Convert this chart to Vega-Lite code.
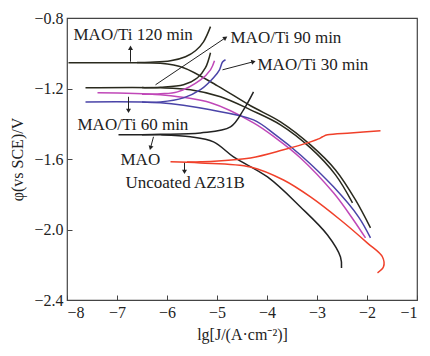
{
  "$schema": "https://vega.github.io/schema/vega-lite/v6.json",
  "width": 350,
  "height": 282,
  "autosize": "none",
  "padding": {"left": 67, "top": 18, "right": 13, "bottom": 56},
  "background": "white",
  "config": {
    "view": {"stroke": "#444", "strokeWidth": 1.2},
    "font": "Liberation Serif",
    "axis": {"grid": false, "domain": false, "titleFontWeight": "normal"}
  },
  "datasets": {
    "curves": [
      {"curve": "120", "branch": "c", "i": 0, "x": -1.93, "y": -1.991},
      {"curve": "120", "branch": "c", "i": 1, "x": -2.23, "y": -1.832},
      {"curve": "120", "branch": "c", "i": 2, "x": -2.63, "y": -1.662},
      {"curve": "120", "branch": "c", "i": 3, "x": -3.13, "y": -1.52},
      {"curve": "120", "branch": "c", "i": 4, "x": -3.73, "y": -1.389},
      {"curve": "120", "branch": "c", "i": 5, "x": -4.33, "y": -1.298},
      {"curve": "120", "branch": "c", "i": 6, "x": -4.99, "y": -1.185},
      {"curve": "120", "branch": "c", "i": 7, "x": -5.67, "y": -1.082},
      {"curve": "120", "branch": "c", "i": 8, "x": -6.13, "y": -1.057},
      {"curve": "120", "branch": "c", "i": 9, "x": -6.93, "y": -1.054},
      {"curve": "120", "branch": "c", "i": 10, "x": -7.97, "y": -1.054},
      {"curve": "120", "branch": "a", "i": 0, "x": -6.6, "y": -1.053},
      {"curve": "120", "branch": "a", "i": 1, "x": -6.33, "y": -1.051},
      {"curve": "120", "branch": "a", "i": 2, "x": -5.93, "y": -1.043},
      {"curve": "120", "branch": "a", "i": 3, "x": -5.63, "y": -1.02},
      {"curve": "120", "branch": "a", "i": 4, "x": -5.43, "y": -0.986},
      {"curve": "120", "branch": "a", "i": 5, "x": -5.27, "y": -0.935},
      {"curve": "120", "branch": "a", "i": 6, "x": -5.13, "y": -0.849},

      {"curve": "90", "branch": "c", "i": 0, "x": -2.29, "y": -1.849},
      {"curve": "90", "branch": "c", "i": 1, "x": -2.63, "y": -1.69},
      {"curve": "90", "branch": "c", "i": 2, "x": -3.13, "y": -1.537},
      {"curve": "90", "branch": "c", "i": 3, "x": -3.73, "y": -1.406},
      {"curve": "90", "branch": "c", "i": 4, "x": -4.33, "y": -1.321},
      {"curve": "90", "branch": "c", "i": 5, "x": -4.93, "y": -1.247},
      {"curve": "90", "branch": "c", "i": 6, "x": -5.53, "y": -1.207},
      {"curve": "90", "branch": "c", "i": 7, "x": -6.13, "y": -1.196},
      {"curve": "90", "branch": "c", "i": 8, "x": -7.63, "y": -1.196},
      {"curve": "90", "branch": "a", "i": 0, "x": -6.5, "y": -1.195},
      {"curve": "90", "branch": "a", "i": 1, "x": -6.13, "y": -1.193},
      {"curve": "90", "branch": "a", "i": 2, "x": -5.67, "y": -1.179},
      {"curve": "90", "branch": "a", "i": 3, "x": -5.39, "y": -1.139},
      {"curve": "90", "branch": "a", "i": 4, "x": -5.23, "y": -1.082},
      {"curve": "90", "branch": "a", "i": 5, "x": -5.13, "y": -0.997},

      {"curve": "60", "branch": "c", "i": 0, "x": -2.03, "y": -2.048},
      {"curve": "60", "branch": "c", "i": 1, "x": -2.27, "y": -1.946},
      {"curve": "60", "branch": "c", "i": 2, "x": -2.67, "y": -1.792},
      {"curve": "60", "branch": "c", "i": 3, "x": -3.33, "y": -1.594},
      {"curve": "60", "branch": "c", "i": 4, "x": -3.83, "y": -1.48},
      {"curve": "60", "branch": "c", "i": 5, "x": -4.27, "y": -1.395},
      {"curve": "60", "branch": "c", "i": 6, "x": -5.13, "y": -1.281},
      {"curve": "60", "branch": "c", "i": 7, "x": -6.13, "y": -1.236},
      {"curve": "60", "branch": "c", "i": 8, "x": -7.39, "y": -1.224},
      {"curve": "60", "branch": "a", "i": 0, "x": -6.5, "y": -1.232},
      {"curve": "60", "branch": "a", "i": 1, "x": -6.13, "y": -1.23},
      {"curve": "60", "branch": "a", "i": 2, "x": -5.79, "y": -1.219},
      {"curve": "60", "branch": "a", "i": 3, "x": -5.33, "y": -1.151},
      {"curve": "60", "branch": "a", "i": 4, "x": -5.13, "y": -1.094},
      {"curve": "60", "branch": "a", "i": 5, "x": -5.05, "y": -1.043},

      {"curve": "30", "branch": "c", "i": 0, "x": -1.93, "y": -2.048},
      {"curve": "30", "branch": "c", "i": 1, "x": -2.17, "y": -1.928},
      {"curve": "30", "branch": "c", "i": 2, "x": -2.67, "y": -1.758},
      {"curve": "30", "branch": "c", "i": 3, "x": -3.33, "y": -1.577},
      {"curve": "30", "branch": "c", "i": 4, "x": -3.83, "y": -1.463},
      {"curve": "30", "branch": "c", "i": 5, "x": -4.27, "y": -1.378},
      {"curve": "30", "branch": "c", "i": 6, "x": -5.13, "y": -1.321},
      {"curve": "30", "branch": "c", "i": 7, "x": -6.13, "y": -1.281},
      {"curve": "30", "branch": "c", "i": 8, "x": -7.63, "y": -1.276},
      {"curve": "30", "branch": "a", "i": 0, "x": -6.5, "y": -1.277},
      {"curve": "30", "branch": "a", "i": 1, "x": -6.13, "y": -1.276},
      {"curve": "30", "branch": "a", "i": 2, "x": -5.67, "y": -1.253},
      {"curve": "30", "branch": "a", "i": 3, "x": -5.33, "y": -1.207},
      {"curve": "30", "branch": "a", "i": 4, "x": -5.07, "y": -1.139},
      {"curve": "30", "branch": "a", "i": 5, "x": -4.95, "y": -1.094},
      {"curve": "30", "branch": "a", "i": 6, "x": -4.89, "y": -1.05},
      {"curve": "30", "branch": "a", "i": 7, "x": -4.83, "y": -1.037},

      {"curve": "MAO", "branch": "c", "i": 0, "x": -2.51, "y": -2.218},
      {"curve": "MAO", "branch": "c", "i": 1, "x": -2.53, "y": -2.156},
      {"curve": "MAO", "branch": "c", "i": 2, "x": -2.79, "y": -2.031},
      {"curve": "MAO", "branch": "c", "i": 3, "x": -3.33, "y": -1.872},
      {"curve": "MAO", "branch": "c", "i": 4, "x": -3.99, "y": -1.702},
      {"curve": "MAO", "branch": "c", "i": 5, "x": -4.67, "y": -1.588},
      {"curve": "MAO", "branch": "c", "i": 6, "x": -5.07, "y": -1.503},
      {"curve": "MAO", "branch": "c", "i": 7, "x": -5.53, "y": -1.474},
      {"curve": "MAO", "branch": "c", "i": 8, "x": -6.13, "y": -1.463},
      {"curve": "MAO", "branch": "c", "i": 9, "x": -6.97, "y": -1.463},
      {"curve": "MAO", "branch": "a", "i": 0, "x": -6.5, "y": -1.462},
      {"curve": "MAO", "branch": "a", "i": 1, "x": -6.13, "y": -1.46},
      {"curve": "MAO", "branch": "a", "i": 2, "x": -5.33, "y": -1.452},
      {"curve": "MAO", "branch": "a", "i": 3, "x": -4.73, "y": -1.418},
      {"curve": "MAO", "branch": "a", "i": 4, "x": -4.47, "y": -1.321},
      {"curve": "MAO", "branch": "a", "i": 5, "x": -4.27, "y": -1.219},

      {"curve": "AZ31B", "branch": "c", "i": 0, "x": -1.79, "y": -2.246},
      {"curve": "AZ31B", "branch": "c", "i": 1, "x": -1.67, "y": -2.212},
      {"curve": "AZ31B", "branch": "c", "i": 2, "x": -1.69, "y": -2.156},
      {"curve": "AZ31B", "branch": "c", "i": 3, "x": -1.99, "y": -2.077},
      {"curve": "AZ31B", "branch": "c", "i": 4, "x": -2.53, "y": -1.946},
      {"curve": "AZ31B", "branch": "c", "i": 5, "x": -3.13, "y": -1.815},
      {"curve": "AZ31B", "branch": "c", "i": 6, "x": -3.67, "y": -1.719},
      {"curve": "AZ31B", "branch": "c", "i": 7, "x": -4.33, "y": -1.645},
      {"curve": "AZ31B", "branch": "c", "i": 8, "x": -5.33, "y": -1.622},
      {"curve": "AZ31B", "branch": "c", "i": 9, "x": -5.93, "y": -1.616},
      {"curve": "AZ31B", "branch": "a", "i": 0, "x": -5.6, "y": -1.617},
      {"curve": "AZ31B", "branch": "a", "i": 1, "x": -5.33, "y": -1.616},
      {"curve": "AZ31B", "branch": "a", "i": 2, "x": -4.33, "y": -1.594},
      {"curve": "AZ31B", "branch": "a", "i": 3, "x": -3.67, "y": -1.548},
      {"curve": "AZ31B", "branch": "a", "i": 4, "x": -3.13, "y": -1.503},
      {"curve": "AZ31B", "branch": "a", "i": 5, "x": -2.97, "y": -1.486},
      {"curve": "AZ31B", "branch": "a", "i": 6, "x": -2.89, "y": -1.474},
      {"curve": "AZ31B", "branch": "a", "i": 7, "x": -2.79, "y": -1.463},
      {"curve": "AZ31B", "branch": "a", "i": 8, "x": -2.33, "y": -1.452},
      {"curve": "AZ31B", "branch": "a", "i": 9, "x": -1.73, "y": -1.44}
    ],
    "labels": [
      {"label": "MAO/Ti 120 min", "x": -7.87, "y": -0.923},
      {"label": "MAO/Ti 90 min", "x": -4.73, "y": -0.94},
      {"label": "MAO/Ti 30 min", "x": -4.19, "y": -1.094},
      {"label": "MAO/Ti 60 min", "x": -7.79, "y": -1.435},
      {"label": "MAO", "x": -6.93, "y": -1.633},
      {"label": "Uncoated AZ31B", "x": -6.83, "y": -1.764}
    ],
    "arrows": [
      {"x": -6.73, "y": -1.048, "x2": -6.73, "y2": -0.969, "ang": 0},
      {"x": -6.23, "y": -1.179, "x2": -4.83, "y2": -0.912, "ang": 56},
      {"x": -4.89, "y": -1.094, "x2": -4.27, "y2": -1.048, "ang": 75},
      {"x": -6.77, "y": -1.247, "x2": -6.77, "y2": -1.327, "ang": 180},
      {"x": -6.27, "y": -1.474, "x2": -6.33, "y2": -1.537, "ang": 195},
      {"x": -5.65, "y": -1.622, "x2": -5.65, "y2": -1.673, "ang": 180}
    ]
  },
  "layer": [
    {
      "data": {"name": "curves"},
      "mark": {"type": "line", "strokeWidth": 1.5, "interpolate": "catmull-rom"},
      "encoding": {
        "x": {"field": "x", "type": "quantitative", "scale": {"domain": [-8, -1], "nice": false}, "axis": {"values": [-8, -7, -6, -5, -4, -3, -2, -1], "format": "d", "labelFont": "Liberation Serif", "labelFontSize": 16, "labelColor": "#222", "titleFont": "Liberation Serif", "titleFontSize": 16, "titleColor": "#222", "titleFontWeight": "normal", "tickColor": "#444", "tickSize": -5, "labelPadding": 9, "title": "lg[J/(A·cm⁻²)]", "titlePadding": 6}},
        "y": {"field": "y", "type": "quantitative", "scale": {"domain": [-2.4, -0.8], "nice": false, "zero": false}, "axis": {"values": [-2.4, -2.0, -1.6, -1.2, -0.8], "format": ".1f", "labelFont": "Liberation Serif", "labelFontSize": 16, "labelColor": "#222", "titleFont": "Liberation Serif", "titleFontSize": 16, "titleColor": "#222", "titleFontWeight": "normal", "tickColor": "#444", "tickSize": -5, "labelPadding": 9, "title": "φ(vs SCE)/V", "titlePadding": 8}},
        "color": {"field": "curve", "type": "nominal", "legend": null, "scale": {"domain": ["120", "90", "60", "30", "MAO", "AZ31B"], "range": ["#2a2a1e", "#2a2a1e", "#c048b8", "#4a44a8", "#222222", "#f0402a"]}},
        "detail": {"field": "branch"},
        "order": {"field": "i", "type": "quantitative"}
      }
    },
    {
      "data": {"name": "arrows"},
      "mark": {"type": "rule", "color": "#222", "strokeWidth": 1},
      "encoding": {
        "x": {"field": "x", "type": "quantitative"},
        "y": {"field": "y", "type": "quantitative"},
        "x2": {"field": "x2"},
        "y2": {"field": "y2"}
      }
    },
    {
      "data": {"name": "arrows"},
      "mark": {"type": "point", "shape": "triangle-up", "filled": true, "color": "#222", "size": 25, "opacity": 1},
      "encoding": {
        "x": {"field": "x2", "type": "quantitative"},
        "y": {"field": "y2", "type": "quantitative"},
        "angle": {"field": "ang", "type": "quantitative", "scale": null}
      }
    },
    {
      "data": {"name": "labels"},
      "mark": {"type": "text", "align": "left", "baseline": "alphabetic", "font": "Liberation Serif", "fontSize": 17, "color": "#222"},
      "encoding": {
        "x": {"field": "x", "type": "quantitative"},
        "y": {"field": "y", "type": "quantitative"},
        "text": {"field": "label"}
      }
    }
  ]
}
